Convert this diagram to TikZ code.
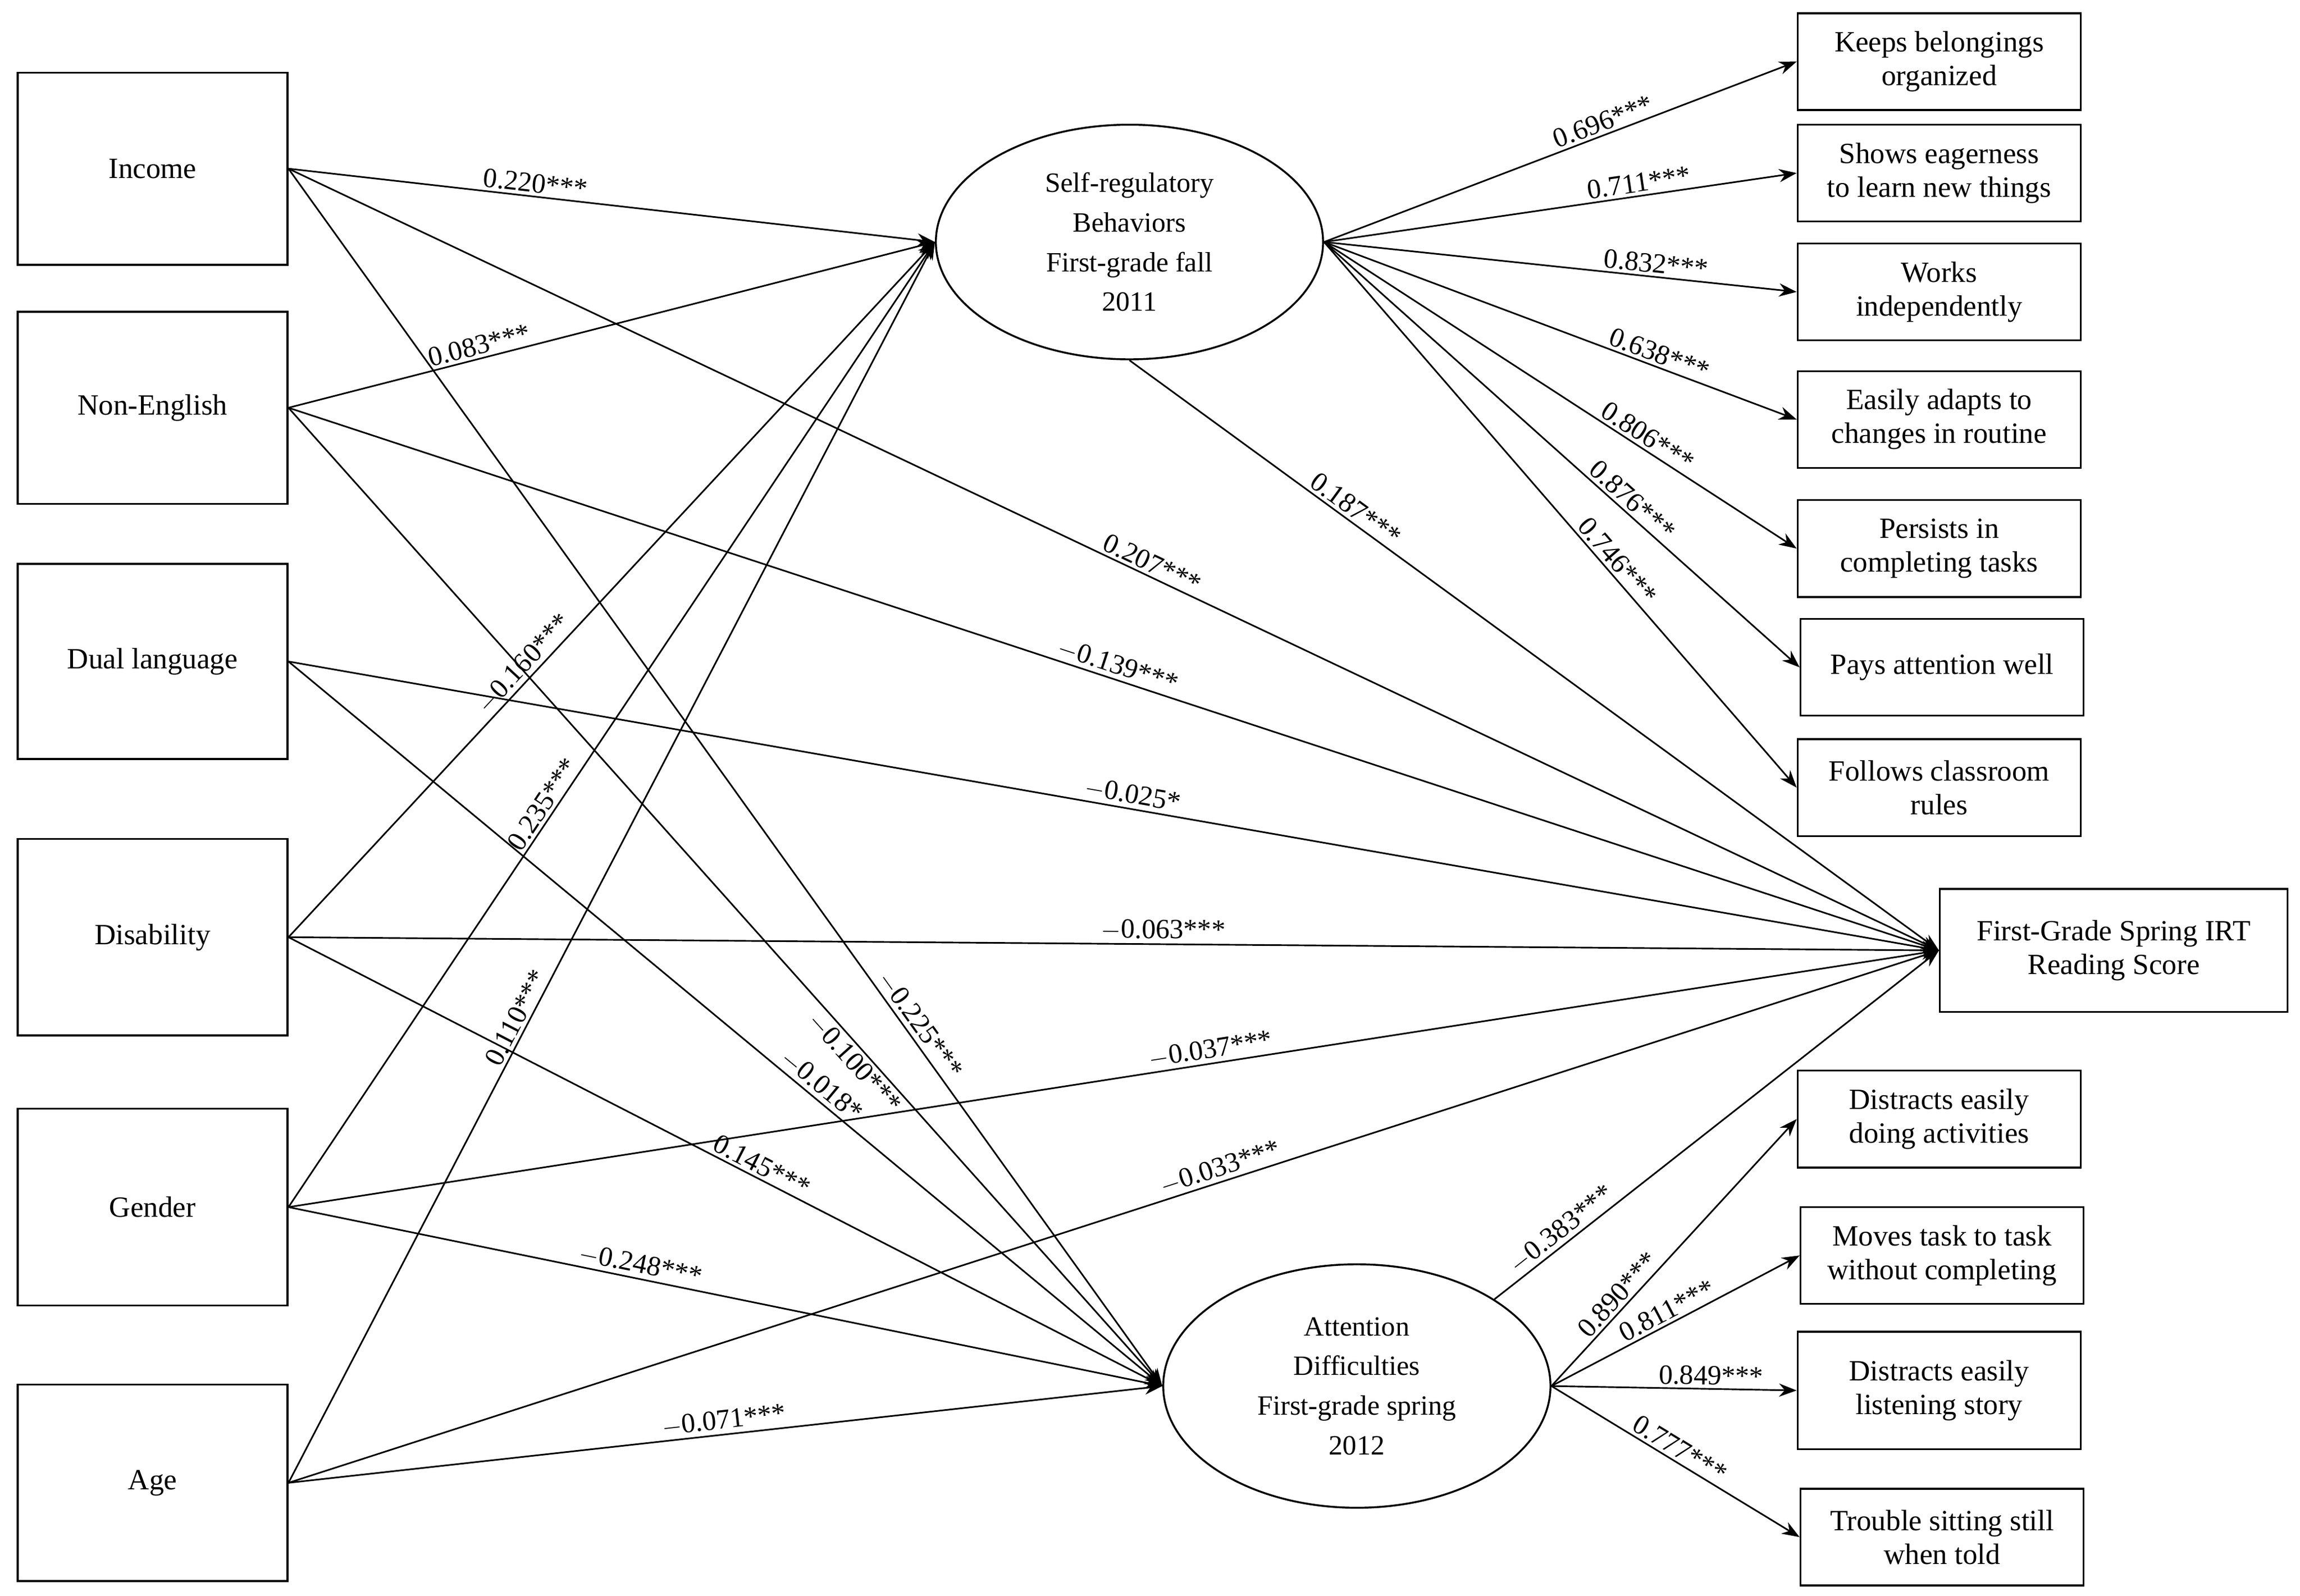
\documentclass[tikz,border=0pt]{standalone}
\usepackage{fontspec}
\setmainfont{Liberation Serif}
\usetikzlibrary{shapes.geometric,arrows.meta}
\begin{document}
\begin{tikzpicture}[x=1pt,y=-1pt,
  box/.style={draw,line width=1.3pt,align=center,inner sep=2pt,font=\fontsize{20}{23}\selectfont},
  lb/.style={draw,line width=1.3pt,minimum width=184pt,minimum height=131pt,font=\fontsize{20}{23}\selectfont},
  rb/.style={box,minimum width=193pt,minimum height=66pt},
  el/.style={draw,ellipse,line width=1.3pt,minimum width=264pt,minimum height=160pt,align=center,font=\fontsize{19}{27}\selectfont},
  ar/.style={line width=1.1pt,-{Stealth[length=12pt,width=9pt]}},
  v/.style={font=\fontsize{19}{22}\selectfont,sloped,above,inner sep=2pt}]
\useasboundingbox (0,0) rectangle (1568,1088);
\node[lb] (inc) at (104,115) {Income};
\node[lb] (ne) at (104,278) {Non-English};
\node[lb,minimum height=133pt] (dl) at (104,451) {Dual language};
\node[lb,minimum height=134pt] (dis) at (104,639) {Disability};
\node[lb,minimum height=134pt] (gen) at (104,823) {Gender};
\node[lb,minimum height=134pt] (age) at (104,1011) {Age};
\node[el] (e1) at (770,165) {Self-regulatory\\Behaviors\\First-grade fall\\2011};
\node[el,minimum height=166pt] (e2) at (925,945) {Attention\\Difficulties\\First-grade spring\\2012};
\node[box,minimum width=237pt,minimum height=84pt] (out) at (1441,648) {First-Grade Spring IRT\\Reading Score};
\node[rb] (r1) at (1322,42) {Keeps belongings\\organized};
\node[rb] (r2) at (1322,118) {Shows eagerness\\to learn new things};
\node[rb] (r3) at (1322,199) {Works\\independently};
\node[rb] (r4) at (1322,286) {Easily adapts to\\changes in routine};
\node[rb] (r5) at (1322,374) {Persists in\\completing tasks};
\node[rb] (r6) at (1324,455) {Pays attention well};
\node[rb] (r7) at (1322,537) {Follows classroom\\rules};
\node[rb] (b1) at (1322,763) {Distracts easily\\doing activities};
\node[rb] (b2) at (1324,856) {Moves task to task\\without completing};
\node[rb,minimum height=80pt] (b3) at (1322,948) {Distracts easily\\listening story};
\node[rb] (b4) at (1324,1048) {Trouble sitting still\\when told};
% left to E1
\draw[ar] (inc.east) -- node[v,pos=.38]{0.220***} (e1.west);
\draw[ar] (ne.east) -- node[v,pos=.30]{0.083***} (e1.west);
\draw[ar] (dis.east) -- node[v,pos=.38]{$-$0.160***} (e1.west);
\draw[ar] (gen.east) -- node[v,pos=.41]{0.235***} (e1.west);
\draw[ar] (age.east) -- node[v,pos=.37]{0.110***} (e1.west);
% left to outcome
\draw[ar] (inc.east) -- node[v,pos=.52]{0.207***} (out.west);
\draw[ar] (ne.east) -- node[v,pos=.5]{$-$0.139***} (out.west);
\draw[ar] (dl.east) -- node[v,pos=.51]{$-$0.025*} (out.west);
\draw[ar] (dis.east) -- node[v,pos=.53]{$-$0.063***} (out.west);
\draw[ar] (gen.east) -- node[v,pos=.56]{$-$0.037***} (out.west);
\draw[ar] (age.east) -- node[v,pos=.567]{$-$0.033***} (out.west);
% left to E2
\draw[ar] (inc.east) -- node[v,pos=.71]{$-$0.225***} (e2.west);
\draw[ar] (ne.east) -- node[v,below,pos=.66]{$-$0.100***} (e2.west);
\draw[ar] (dl.east) -- node[v,pos=.6]{$-$0.018*} (e2.west);
\draw[ar] (dis.east) -- node[v,pos=.535]{0.145***} (e2.west);
\draw[ar] (gen.east) -- node[v,pos=.40]{$-$0.248***} (e2.west);
\draw[ar] (age.east) -- node[v,pos=.5]{$-$0.071***} (e2.west);
% latent to outcome
\draw[ar] (e1.south) -- node[v,pos=.27]{0.187***} (out.west);
\draw[ar] (e2.north east) -- node[v,pos=.17]{$-$0.383***} (out.west);
% indicators
\draw[ar] (e1.east) -- node[v,pos=.6]{0.696***} (r1.west);
\draw[ar] (e1.east) -- node[v,pos=.67]{0.711***} (r2.west);
\draw[ar] (e1.east) -- node[v,pos=.7]{0.832***} (r3.west);
\draw[ar] (e1.east) -- node[v,pos=.7]{0.638***} (r4.west);
\draw[ar] (e1.east) -- node[v,pos=.67]{0.806***} (r5.west);
\draw[ar] (e1.east) -- node[v,pos=.63]{0.876***} (r6.west);
\draw[ar] (e1.east) -- node[v,pos=.6]{0.746***} (r7.west);
\draw[ar] (e2.east) -- node[v,pos=.31]{0.890***} (b1.west);
\draw[ar] (e2.east) -- node[v,pos=.49]{0.811***} (b2.west);
\draw[ar] (e2.east) -- node[v,pos=.65]{0.849***} (b3.west);
\draw[ar] (e2.east) -- node[v,pos=.49]{0.777***} (b4.west);
\end{tikzpicture}
\end{document}
